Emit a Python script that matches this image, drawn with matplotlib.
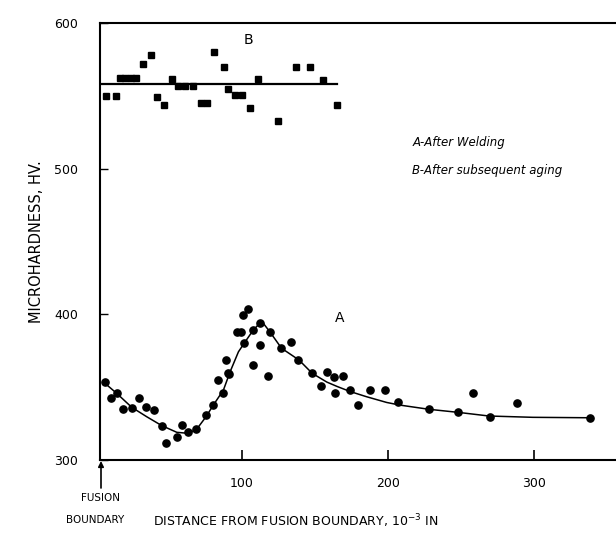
import numpy as np
import matplotlib.pyplot as plt

# curve A - after welding (points)
a_x = [6.2, 10, 14.4, 18.5, 24.7, 29.5, 34.2, 39.7, 45.2, 48, 55.3, 58.7, 62.8, 68.5,
       75.3, 80, 83.6, 87, 88.8, 90.4, 91.3, 96.4, 99.1, 100.5, 104.3, 101.6, 107.7,
       112.3, 112.3, 107.7, 118, 119.2, 126.7, 133.6, 138.2, 147.7, 154.1, 158, 163.2,
       169.4, 163.7, 174, 179.2, 187.7, 198, 207, 228.3, 247.7, 258.4, 269.4, 288.2, 337.9]
a_y = [353.5, 342.5, 346, 335, 335.7, 342.6, 336.4, 334.3, 323.3, 311.7, 315.8, 324, 319, 321,
       331, 337.7, 355, 346, 368.6, 359.7, 359, 388, 388, 399.5, 404, 380, 389,
       394, 379, 365, 358, 388, 376.7, 380.8, 368.6, 359.5, 350.8, 360.6, 356.8,
       357.9, 346, 348, 337.7, 348, 348, 340, 334.8, 333, 345.8, 329.7, 339.3, 329]

# fitted curve A
fit_x = [5, 14.2, 24.4, 34.7, 45, 55.3, 62.1, 68.5, 75.3, 80.3, 87.2, 91.8, 97.5, 102,
         107.5, 112, 114, 119, 127, 139, 148, 158, 165, 174, 185, 199, 208, 228, 248,
         269, 299, 338]
fit_y = [353.6, 345.7, 336.2, 329.7, 323.6, 319, 318.4, 320.6, 329.7, 337.7, 348, 360.6,
         374.3, 381, 389, 393.8, 394.5, 388, 376.7, 368.6, 359.5, 353.5, 350.5, 347,
         343.5, 339.5, 337.7, 334.8, 332.7, 330.2, 329.3, 329]

# B - after subsequent aging
b_x = [6.8, 13.7, 16.4, 19.9, 24, 27.4, 32.2, 37.7, 41.8, 46.6, 52, 56.2, 61, 66.4,
       72, 76, 80.8, 87.7, 90.4, 95.2, 100, 105.5, 111, 124.7, 137, 146.6, 155.5, 165]
b_y = [550, 550, 562, 562, 562, 562, 572, 578, 549, 544, 561.5, 557, 557, 557,
       545, 545, 580, 570, 555, 550.5, 550.5, 541.6, 561.5, 533, 570, 570, 561, 544]
b_level = 558
b_span = [3, 165]

fig = plt.figure(figsize=(6.16, 5.48), dpi=100)
ax = fig.add_axes([100 / 616, 88 / 548, 516 / 616, 437 / 548])

ax.plot(a_x, a_y, 'o', color='black', markersize=5.2)
ax.plot(fit_x, fit_y, '-', color='black', lw=1.1)
ax.plot(b_x, b_y, 's', color='black', markersize=3.8)
ax.plot(b_span, [b_level, b_level], '-', color='black', lw=1.6)

ax.set_xlim(2.7, 356)
ax.set_ylim(300, 600)
ax.spines['right'].set_visible(False)
for s in ['left', 'bottom', 'top']:
    ax.spines[s].set_linewidth(1.5)

ax.set_xticks([100, 200, 300])
ax.set_yticks([300, 400, 500, 600])
ax.tick_params(axis='x', direction='in', length=7, width=1.2, pad=12, labelsize=9)
ax.tick_params(axis='y', direction='in', length=6, width=1.0, pad=16, labelsize=9)

ax.text(104, 588, 'B', fontsize=10, ha='center', va='center')
ax.text(167, 397.5, 'A', fontsize=10, ha='center', va='center')
ax.text(217, 518, 'A-After Welding', fontsize=8.5, style='italic', va='center')
ax.text(216, 499, 'B-After subsequent aging', fontsize=8.5, style='italic', va='center')

ax.set_ylabel('MICROHARDNESS, HV.', fontsize=10.5, labelpad=7)
fig.text(296 / 616, 1 - 521 / 548, 'DISTANCE FROM FUSION BOUNDARY, 10$^{-3}$ IN',
         fontsize=9, ha='center', va='center')
fig.text(100 / 616, 1 - 498 / 548, 'FUSION', fontsize=7.5, ha='center', va='center')
fig.text(95 / 616, 1 - 520 / 548, 'BOUNDARY', fontsize=7.5, ha='center', va='center')
ax.annotate('', xy=(101 / 616, 1 - 461 / 548), xycoords='figure fraction',
            xytext=(101 / 616, 1 - 488 / 548), textcoords='figure fraction',
            arrowprops=dict(arrowstyle='-|>', color='black', lw=1.2,
                            mutation_scale=8, shrinkA=0, shrinkB=0))

fig.savefig('out.png', dpi=100)
